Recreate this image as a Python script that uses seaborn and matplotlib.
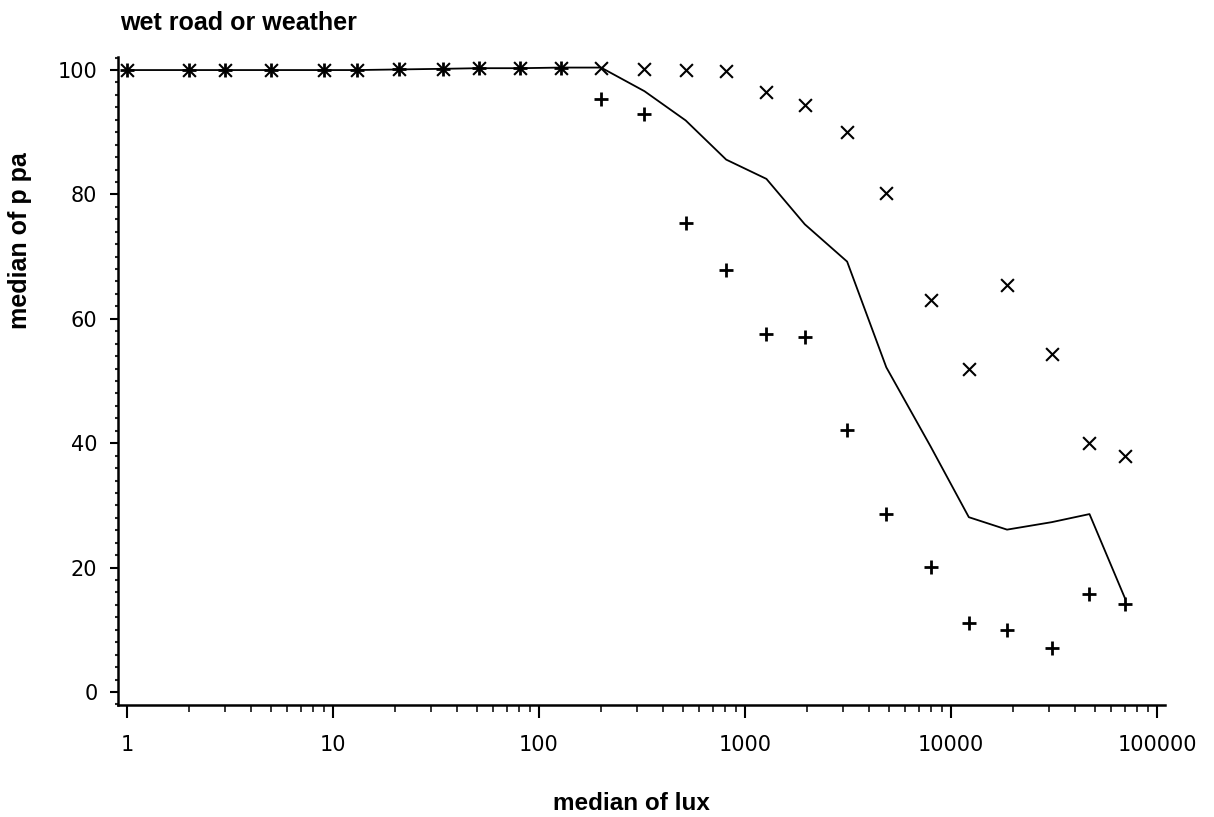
import numpy as np
import pandas as pd
import matplotlib
matplotlib.use("Agg")
import matplotlib.pyplot as plt
import seaborn as sns
from matplotlib.ticker import LogLocator, NullFormatter, MultipleLocator, FixedLocator, FixedFormatter

# ---- data ----
lux = [1, 2, 3, 5, 9, 13, 21, 34, 51, 81, 128,
       200, 325, 515, 810, 1270, 1950, 3130, 4850, 7950, 12200, 18700, 30800, 47000, 70000]
upper_ppa = [100, 100, 100, 100, 100, 100, 100.1, 100.2, 100.3, 100.3, 100.4,
             100.4, 100.2, 100.0, 99.9, 96.4, 94.4, 90.1, 80.2, 63.0, 52.0, 65.4, 54.3, 40.0, 38.0]
lower_ppa = [100, 100, 100, 100, 100, 100, 100.1, 100.2, 100.3, 100.3, 100.4,
             95.4, 93.0, 75.4, 67.9, 57.6, 57.0, 42.1, 28.6, 20.1, 11.1, 10.0, 7.1, 15.8, 14.1]
median_ppa = [100, 100, 100, 100, 100, 100, 100.1, 100.2, 100.3, 100.3, 100.4,
              100.4, 96.6, 91.9, 85.6, 82.5, 75.2, 69.2, 52.2, 39.5, 28.1, 26.1, 27.3, 28.6, 15.0]

x_ticks = [1, 10, 100, 1000, 10000, 100000]
x_tick_labels = ["1", "10", "100", "1000", "10000", "100000"]
y_ticks = [0, 20, 40, 60, 80, 100]
y_tick_labels = ["0", "20", "40", "60", "80", "100"]

title = "wet road or weather"
x_label = "median of lux"
y_label = "median of p pa"

# ---- style ----
sns.set_style("ticks")
plt.rcParams["font.family"] = ["DejaVu Sans"]
plt.rcParams["text.color"] = "black"
plt.rcParams["axes.labelcolor"] = "black"

W, H = 1214, 817
fig = plt.figure(figsize=(W / 100, H / 100), dpi=100)
left_px, right_px, top_px, bottom_px = 118, 1165, 57, 705
ax = fig.add_axes([left_px / W, 1 - bottom_px / H, (right_px - left_px) / W, (bottom_px - top_px) / H])
ax.set_xscale("log")

df_line = pd.DataFrame({"lux": lux, "ppa": median_ppa})
sns.lineplot(data=df_line, x="lux", y="ppa", color="black", linewidth=1.3,
             estimator=None, sort=False, ax=ax)
sns.scatterplot(x=lux, y=upper_ppa, marker="x", s=85, color="black", linewidth=1.5, ax=ax)
sns.scatterplot(x=lux, y=lower_ppa, marker="+", s=95, color="black", linewidth=2.0, ax=ax)

ax.set_xlim(0.904, 109300)
ax.set_ylim(-2.1, 102.1)

ax.xaxis.set_major_locator(FixedLocator(x_ticks))
ax.xaxis.set_major_formatter(FixedFormatter(x_tick_labels))
ax.xaxis.set_minor_locator(LogLocator(base=10, subs=range(2, 10), numticks=20))
ax.xaxis.set_minor_formatter(NullFormatter())
ax.yaxis.set_major_locator(FixedLocator(y_ticks))
ax.yaxis.set_major_formatter(FixedFormatter(y_tick_labels))
ax.yaxis.set_minor_locator(MultipleLocator(2))

ax.tick_params(axis="x", which="major", direction="out", length=9.4, width=1.5,
               pad=12, labelsize=15, colors="black")
ax.tick_params(axis="x", which="minor", direction="out", length=5, width=1.3)
ax.tick_params(axis="y", which="major", direction="out", length=5.8, width=1.5,
               pad=9, labelsize=15, colors="black")
ax.tick_params(axis="y", which="minor", direction="out", length=2.5, width=1.5)

for s in ["top", "right"]:
    ax.spines[s].set_visible(False)
for s in ["left", "bottom"]:
    ax.spines[s].set_linewidth(1.8)
    ax.spines[s].set_color("black")

bold_font = ["Liberation Sans", "DejaVu Sans"]
ax.set_xlabel(x_label, fontsize=17.5, fontweight="bold", family=bold_font, color="black")
ax.xaxis.set_label_coords((631 - left_px) / (right_px - left_px), -(803 - bottom_px) / (bottom_px - top_px))
ax.xaxis.label.set_va("center")
ax.set_ylabel(y_label, fontsize=18, fontweight="bold", family=bold_font, color="black")
ax.yaxis.set_label_coords((20 - left_px) / (right_px - left_px), (bottom_px - 241) / (bottom_px - top_px))
ax.yaxis.label.set_va("center")

ax.text((120 - left_px) / (right_px - left_px), (bottom_px - 23) / (bottom_px - top_px), title,
        transform=ax.transAxes, ha="left", va="center", fontsize=18, fontweight="bold",
        family=bold_font, color="black")

fig.savefig("out.png", dpi=100, facecolor="white")
